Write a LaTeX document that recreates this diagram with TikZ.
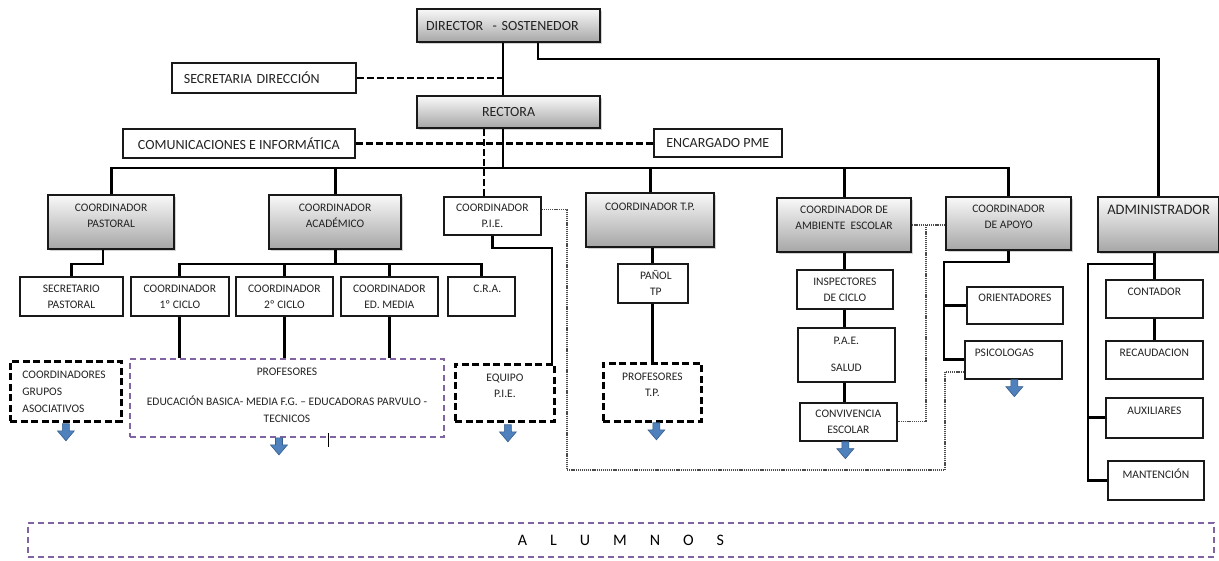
\documentclass[tikz,border=0pt]{standalone}
\usepackage{fontspec}
\setmainfont{Carlito}
\usetikzlibrary{shadows}
\definecolor{purp}{RGB}{128,100,162}
\definecolor{arrblue}{RGB}{79,129,189}
\definecolor{arrline}{RGB}{56,93,138}
\definecolor{txtc}{RGB}{35,35,35}
\tikzset{
  base/.style={anchor=north west, inner sep=0pt, text=txtc, align=center},
  graybox/.style={base, draw=black!90, line width=2.2pt, top color=gray!5, bottom color=gray!70,
     drop shadow={shadow xshift=1.6pt, shadow yshift=-1.6pt, opacity=0.35}},
  whitebox/.style={base, draw=black!90, line width=1.7pt, fill=white},
  blkdash/.style={base, draw=black, line width=2.8pt, dash pattern=on 7pt off 3.5pt},
  purpdash/.style={base, draw=purp, line width=1.9pt, dash pattern=on 6pt off 4pt},
  bigtxt/.style={font=\fontsize{14}{17}\selectfont},
  smalltxt/.style={font=\fontsize{11.5}{16}\selectfont},
  toplbl/.style={anchor=north, inner sep=0pt, align=center, text=txtc, font=\fontsize{11.5}{16}\selectfont},
  conn/.style={line width=2.9pt, black},
  dconn/.style={line width=2.6pt, black, dash pattern=on 7pt off 3pt},
  dotconn/.style={line width=1.3pt, black!70, dash pattern=on 1.2pt off 0.9pt},
  downarr/.pic={\draw[fill=arrblue, draw=arrline, line width=0.6pt, line join=miter]
     (-3.5,0) -- (3.5,0) -- (3.5,7) -- (8.5,7) -- (0,17) -- (-8.5,7) -- (-3.5,7) -- cycle;}
}
\begin{document}
\begin{tikzpicture}[x=1pt,y=-1pt]
\useasboundingbox (0,0) rectangle (1219,561);
\fill[white] (0,0) rectangle (1219,561);

% top level
\node[graybox, minimum width=183pt, minimum height=33pt, text width=165pt, align=left, bigtxt] (dir) at (416,8) {DIRECTOR\ \ - SOSTENEDOR};
\node[graybox, minimum width=183pt, minimum height=32pt, bigtxt] (rect) at (416,95) {RECTORA};
\node[whitebox, minimum width=184pt, minimum height=30pt, text width=160pt, align=left, bigtxt] (sec) at (171,62) {SECRETARIA DIRECCIÓN};
\node[whitebox, minimum width=232pt, minimum height=29pt, bigtxt] (comms) at (122,128) {COMUNICACIONES E INFORMÁTICA};
\node[whitebox, minimum width=128pt, minimum height=28pt, bigtxt] (pme) at (653,128) {ENCARGADO PME};

% coordinators
\node[graybox, minimum width=126pt, minimum height=54pt, label={[toplbl,yshift=-10pt]north:{COORDINADOR\\PASTORAL}}] (pastoral) at (47,194) {};
\node[graybox, minimum width=132pt, minimum height=54pt, label={[toplbl,yshift=-10pt]north:{COORDINADOR\\ACADÉMICO}}] (acad) at (268,194) {};
\node[whitebox, minimum width=97pt, minimum height=38pt, smalltxt] (pie) at (443,196) {COORDINADOR\\P.I.E.};
\node[graybox, minimum width=128pt, minimum height=54pt, label={[toplbl,yshift=-11pt]north:{COORDINADOR T.P.}}] (tp) at (585,192) {};
\node[graybox, minimum width=134pt, minimum height=54pt, label={[toplbl,yshift=-8.5pt]north:{COORDINADOR DE\\AMBIENTE\ \ ESCOLAR}}] (amb) at (776,197) {};
\node[graybox, minimum width=125pt, minimum height=53pt, label={[toplbl,yshift=-9pt]north:{COORDINADOR\\DE APOYO}}] (apoyo) at (945,196) {};
\node[graybox, minimum width=121pt, minimum height=55pt, label={[toplbl,font=\fontsize{14.5}{17}\selectfont,yshift=-9pt]north:{ADMINISTRADOR}}] (admin) at (1097,196) {};

% second row
\node[whitebox, minimum width=103pt, minimum height=39pt, smalltxt] (secpast) at (19,276) {SECRETARIO\\PASTORAL};
\node[whitebox, minimum width=98pt, minimum height=39pt, smalltxt] (c1) at (130,276) {COORDINADOR\\1º CICLO};
\node[whitebox, minimum width=97pt, minimum height=39pt, smalltxt] (c2) at (235,276) {COORDINADOR\\2º CICLO};
\node[whitebox, minimum width=97pt, minimum height=39pt, smalltxt] (cmed) at (340,276) {COORDINADOR\\ED. MEDIA};
\node[whitebox, minimum width=67pt, minimum height=39pt, label={[toplbl,yshift=-8.5pt,xshift=6pt]north:{C.R.A.}}] (cra) at (447,276) {};
\node[whitebox, minimum width=70pt, minimum height=39pt, smalltxt, text width=60pt] (panol) at (617,263) {\hspace*{6pt}PAÑOL\\\hspace*{6pt}TP};
\node[whitebox, minimum width=96pt, minimum height=39pt, smalltxt] (insp) at (796,269) {INSPECTORES\\DE CICLO};
\node[whitebox, minimum width=97pt, minimum height=54pt, smalltxt] (pae) at (797,327) {P.A.E.\\[11pt]SALUD};
\node[whitebox, minimum width=97pt, minimum height=38pt, smalltxt] (conv) at (799,402) {CONVIVENCIA\\ESCOLAR};
\node[whitebox, minimum width=96pt, minimum height=37pt, label={[toplbl,yshift=-7.5pt]north:{ORIENTADORES}}] (orient) at (966,286) {};
\node[whitebox, minimum width=97pt, minimum height=38pt, label={[toplbl,yshift=-9pt,xshift=-9pt]north:{PSICOLOGAS}}] (psico) at (964,340) {};
\node[whitebox, minimum width=97pt, minimum height=38pt, label={[toplbl,yshift=-8.5pt]north:{CONTADOR}}] (contador) at (1105,279) {};
\node[whitebox, minimum width=97pt, minimum height=38pt, label={[toplbl,yshift=-8.5pt]north:{RECAUDACION}}] (recaud) at (1105,340) {};
\node[whitebox, minimum width=97pt, minimum height=40pt, label={[toplbl,yshift=-10pt]north:{AUXILIARES}}] (aux) at (1105,397) {};
\node[whitebox, minimum width=96pt, minimum height=39pt, label={[toplbl,yshift=-8.5pt]north:{MANTENCIÓN}}] (mant) at (1107,460) {};

% dashed groups
\node[blkdash, minimum width=111pt, minimum height=60pt, text width=87pt, align=left, font=\fontsize{11.5}{17}\selectfont] (cga) at (9,360) {COORDINADORES\\GRUPOS\\ASOCIATIVOS};
\node[purpdash, minimum width=314pt, minimum height=78pt, label={[toplbl,font=\fontsize{11.5}{17}\selectfont,yshift=-10pt]north:{PROFESORES\\[13pt]EDUCACIÓN BASICA- MEDIA F.G. – EDUCADORAS PARVULO -\\TECNICOS}}] (prof) at (129,358) {};
\node[blkdash, minimum width=99pt, minimum height=57pt, label={[toplbl,yshift=-10.5pt]north:{EQUIPO\\P.I.E.}}] (epie) at (454,363) {};
\node[blkdash, minimum width=98pt, minimum height=58pt, label={[toplbl,yshift=-11pt]north:{PROFESORES\\T.P.}}] (ptp) at (602,362) {};
\node[purpdash, minimum width=1186pt, minimum height=34pt, font=\fontsize{16}{18}\selectfont, text=black] (alum) at (27,522) {\spaceskip=23pt A L U M N O S};

% helper coordinates
\coordinate (mainx) at (503,0);
\coordinate (busy) at (0,168);
\coordinate (piex) at (484,0);
\coordinate (dirR) at (538,59);
\coordinate (pastB) at (103,264);
\coordinate (acadB) at (0,264);
\coordinate (pieB) at (552,248);
\coordinate (dl1) at (567,470);
\coordinate (dl2) at (945,372);
\coordinate (dl3) at (926,0);
\coordinate (ap1) at (944,262);
\coordinate (ad1) at (1088,264);

% top connectors
\draw[conn] (dir.south -| mainx) -- (rect.north -| mainx);
\draw[dconn] (sec.east) -- (sec.east -| mainx);
\draw[conn] (dir.south -| dirR) -- (dirR) -| (admin.north);
\draw[dconn] (comms.east) -- (comms.east -| pme.west);
\draw[conn] (rect.south -| mainx) -- (mainx |- busy);
\draw[conn] (pastoral.north) -- (pastoral.north |- busy) -- (apoyo.north |- busy) -- (apoyo.north);
\foreach \n in {acad,tp,amb} \draw[conn] (\n.north |- busy) -- (\n.north);
\draw[dconn] (rect.south -| piex) -- (pie.north -| piex);

% pastoral / academic
\draw[conn] (pastoral.south -| pastB) -- (pastB) -| (secpast.north);
\draw[conn] (acad.south) -- (acad.south |- acadB);
\draw[conn] (c1.north) -- (c1.north |- acadB) -- (cra.north |- acadB) -- (cra.north);
\foreach \n in {c2,cmed} \draw[conn] (\n.north |- acadB) -- (\n.north);
\foreach \n in {c1,c2,cmed} \draw[conn] (\n.south) -- (\n.south |- prof.north);

% PIE
\draw[conn] (pie.south) |- (pieB) -- (pieB |- epie.north);
\draw[dotconn] ([yshift=6pt]pie.east) -| (dl1) -| (dl2) -- (dl2 -| psico.west);

% T.P.
\draw[conn] (panol.north |- tp.south) -- (panol.north);
\draw[conn] (panol.south) -- (panol.south |- ptp.north);

% ambiente escolar
\draw[conn] (insp.north |- amb.south) -- (insp.north);
\draw[conn] (insp.south) -- (insp.south |- pae.north);
\draw[conn] (pae.south -| insp.south) -- (conv.north -| insp.south);
\draw[dotconn] (amb.east) -- (amb.east -| apoyo.west);
\draw[dotconn] (amb.east -| dl3) |- (conv.east);

% apoyo
\draw[conn] (apoyo.south) |- (ap1) |- (psico.west);
\draw[conn] (ap1 |- orient.west) -- (orient.west);

% administrador
\draw[conn] (contador.north |- admin.south) -- (contador.north);
\draw[conn] (contador.north |- ad1) -- (ad1) |- (mant.west);
\draw[conn] (ad1 |- aux.west) -- (aux.west);
\draw[conn] (contador.south) -- (recaud.north);

% arrows
\pic at ([yshift=-1pt]cga.south) {downarr};
\pic at ([xshift=-8pt]prof.south) {downarr};
\pic at ([xshift=3pt,yshift=-2pt]epie.south) {downarr};
\pic at ([xshift=4pt]ptp.south) {downarr};
\pic at ([xshift=-3pt]conv.south) {downarr};
\pic at ([xshift=1pt]psico.south) {downarr};

% stray mark below PROFESORES
\draw[line width=1pt, black] (328,433) -- (328,447);
\end{tikzpicture}
\end{document}
